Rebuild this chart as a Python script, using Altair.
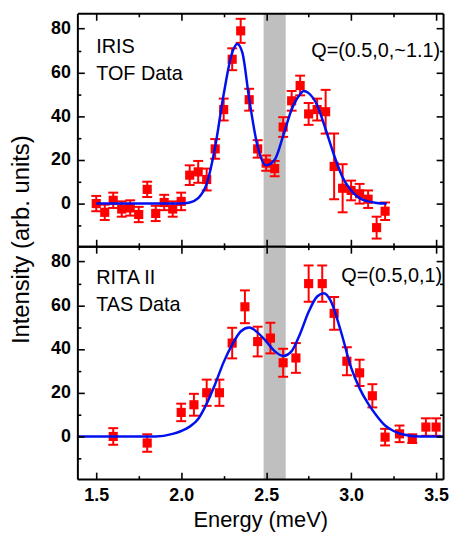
import altair as alt
import pandas as pd

# ---------------- data ----------------
# Top panel: IRIS TOF data
iris_energy = [1.50, 1.55, 1.60, 1.65, 1.70, 1.75, 1.80, 1.85, 1.90, 1.95,
               2.00, 2.05, 2.10, 2.15, 2.20, 2.25, 2.30, 2.35, 2.40, 2.45,
               2.50, 2.55, 2.60, 2.65, 2.70, 2.75, 2.80, 2.85, 2.90, 2.95,
               3.00, 3.05, 3.10, 3.15, 3.20]
iris_intensity = [0, -4, 1.5, -2.5, -2, -5, 6.5, -4.5, 0.5, -2.5,
                  1, 13, 14.5, 11, 25, 43, 66, 79, 47.5, 25,
                  18.5, 16, 35, 47, 54, 41, 43, 42, 17, 7,
                  6, 4.5, 2, -11, -3.5]
iris_error = [3.5, 3.5, 3.5, 3.5, 3.5, 3.5, 3.5, 3.5, 3.5, 3.5,
              4, 4.5, 5, 5, 4.5, 5, 5, 5.5, 5, 4,
              3.5, 3.5, 4.5, 4.5, 4.5, 5, 5, 10, 15, 11,
              4.5, 4.5, 4, 5, 4]
iris_fit_energy = [1.50, 2.00, 2.05, 2.10, 2.15, 2.20, 2.25, 2.30, 2.33, 2.36,
                   2.40, 2.45, 2.50, 2.55, 2.60, 2.65, 2.70, 2.72, 2.75, 2.80,
                   2.85, 2.90, 2.95, 3.00, 3.05, 3.10, 3.15, 3.21]
iris_fit_intensity = [0, 0, 0.5, 2.5, 9, 26, 50, 69, 73, 69,
                      48, 26, 17.5, 20, 31, 43, 50, 51.5, 50.5, 45,
                      34, 22, 12, 6, 2.5, 1, 0.3, 0]

# Bottom panel: RITA II TAS data
rita_energy = [1.60, 1.80, 2.00, 2.075, 2.15, 2.225, 2.30, 2.375, 2.45, 2.525,
               2.60, 2.675, 2.75, 2.83, 2.90, 2.975, 3.05, 3.125, 3.20, 3.285,
               3.36, 3.44, 3.50]
rita_intensity = [0, -3, 11, 14.5, 20, 20, 42.7, 59.3, 43.4, 45,
                  33.7, 35.9, 69.9, 69.9, 56.3, 34.4, 29.1, 18.6, -0.3, 1.2,
                  -1, 4.3, 4.3]
rita_error = [3.8, 4, 4, 5, 6, 6, 7, 7.5, 6.8, 7,
              6.4, 6.8, 8.3, 8.3, 7.5, 6.4, 6, 5.3, 3.8, 3.8,
              2, 4, 4]
rita_fit_energy = [1.389, 1.85, 1.95, 2.00, 2.05, 2.10, 2.15, 2.20, 2.25, 2.30,
                   2.35, 2.40, 2.45, 2.50, 2.55, 2.60, 2.65, 2.70, 2.75, 2.80,
                   2.84, 2.88, 2.94, 3.00, 3.05, 3.10, 3.15, 3.20, 3.25, 3.30,
                   3.40, 3.541]
rita_fit_intensity = [0, 0, 1.2, 2.5, 4.5, 8, 15, 24, 34, 42,
                      48, 49.8, 47.5, 43.5, 39, 36.8, 39, 47, 57, 64,
                      65.5, 62, 48, 31.5, 22, 15, 9.5, 5, 2.5, 1,
                      0, 0]

band_start = [2.485]
band_end = [2.615]

x_label_values = [1.5, 2.0, 2.5, 3.0, 3.5]
x_tick_values = [1.5, 1.75, 2.0, 2.25, 2.5, 2.75, 3.0, 3.25, 3.5]
y_label_values = [0, 20, 40, 60, 80]
y_tick_values = [-10, 0, 10, 20, 30, 40, 50, 60, 70, 80]

iris_text = ["IRIS", "TOF Data"]
iris_q = "Q=(0.5,0,~1.1)"
rita_text = ["RITA II", "TAS Data"]
rita_q = "Q=(0.5,0,1)"

# ---------------- layout / style ----------------
W, H = 369, 235
XDOM = [1.389, 3.541]
YDOM = [-19.5, 87]
FONT = "Liberation Sans"
RED = "#ff0000"
BLUE = "#0010ee"


def xs():
    return alt.Scale(domain=XDOM, nice=False, zero=False)


def ys():
    return alt.Scale(domain=YDOM, nice=False, zero=False)


dash_y = {"condition": {"test": "datum.value % 20 === 0", "value": []}, "value": [3.5, 40]}
dash_x = {"condition": {"test": "abs(datum.value * 2 - round(datum.value * 2)) < 0.001", "value": []},
          "value": [3.5, 40]}


def tick_axis(orient, offset, values, dash):
    return alt.Axis(orient=orient, offset=offset, values=values, labels=False, title=None,
                    ticks=True, tickSize=7, tickWidth=1.6, tickColor="black", tickDash=dash,
                    domain=True, domainColor="black", domainWidth=2, grid=False, zindex=2)


def panel(energy, inten, err, fit_e, fit_i, texts, qtext, bottom):
    df = pd.DataFrame({"E": energy, "I": inten, "err": err})
    df["lo"] = df["I"] - df["err"]
    df["hi"] = df["I"] + df["err"]
    caps = pd.concat([pd.DataFrame({"E": df["E"], "v": df["lo"]}),
                      pd.DataFrame({"E": df["E"], "v": df["hi"]})], ignore_index=True)
    fit = pd.DataFrame({"E": fit_e, "I": fit_i})
    band = pd.DataFrame({"start": band_start, "end": band_end})

    if bottom:
        x_lab_axis = alt.Axis(orient="bottom", values=x_label_values, format=".1f",
                              labelFont=FONT, labelFontSize=18, labelFontWeight="bold",
                              labelColor="black", labelPadding=8, labelOverlap=False,
                              ticks=False, tickSize=0, domain=False, grid=False,
                              title="Energy (meV)", titleFont=FONT, titleFontSize=22,
                              titleFontWeight="normal", titleColor="black", titlePadding=5)
    else:
        x_lab_axis = None

    y_lab_kwargs = dict(orient="left", values=y_label_values, labelFont=FONT, labelFontSize=18,
                        labelFontWeight="bold", labelColor="black", labelPadding=7,
                        ticks=False, tickSize=0, domain=False, grid=False)
    if bottom:
        y_lab_axis = alt.Axis(title=None, **y_lab_kwargs)
    else:
        y_lab_axis = alt.Axis(title="Intensity (arb. units)", titleFont=FONT, titleFontSize=24,
                              titleFontWeight="normal", titleColor="black",
                              titleX=-44, titleY=228, **y_lab_kwargs)

    band_layer = alt.Chart(band).mark_rect(color="#bfbfbf").encode(
        x=alt.X("start:Q", scale=xs(), axis=x_lab_axis),
        x2="end:Q",
    )
    rules = alt.Chart(df).mark_rule(color=RED, strokeWidth=2).encode(
        x=alt.X("E:Q", scale=xs(), axis=tick_axis("bottom", -H, x_tick_values, dash_x)),
        y=alt.Y("lo:Q", scale=ys(), axis=tick_axis("right", -W, y_tick_values, dash_y)),
        y2="hi:Q",
    )
    cap_layer = alt.Chart(caps).mark_tick(color=RED, orient="horizontal", size=10, thickness=2,
                                          opacity=1).encode(
        x=alt.X("E:Q", scale=xs(), axis=tick_axis("top", -H, x_tick_values, dash_x)),
        y=alt.Y("v:Q", scale=ys(), axis=tick_axis("left", -W, y_tick_values, dash_y)),
    )
    squares = alt.Chart(df).mark_square(size=85, color=RED, opacity=1).encode(
        x=alt.X("E:Q", scale=xs(), axis=None),
        y=alt.Y("I:Q", scale=ys(), axis=y_lab_axis),
    )
    curve = alt.Chart(fit).mark_line(color=BLUE, strokeWidth=2.5, interpolate="monotone",
                                     clip=True).encode(
        x=alt.X("E:Q", scale=xs(), axis=None),
        y=alt.Y("I:Q", scale=ys(), axis=None),
    )
    label_y = 40 if not bottom else 38
    label = alt.Chart().mark_text(text=texts, align="left", baseline="alphabetic",
                                  font=FONT, fontSize=20, lineHeight=27, color="black").encode(
        x=alt.value(19), y=alt.value(label_y))
    qlabel = alt.Chart().mark_text(text=qtext, align="right", baseline="alphabetic",
                                   font=FONT, fontSize=20, color="black").encode(
        x=alt.value(366 if not bottom else 368), y=alt.value(44 if not bottom else 36))

    return alt.layer(band_layer, rules, cap_layer, squares, curve, label, qlabel).resolve_axis(
        x="independent", y="independent").properties(width=W, height=H)


top = panel(iris_energy, iris_intensity, iris_error, iris_fit_energy, iris_fit_intensity,
            iris_text, iris_q, bottom=False)
bottom = panel(rita_energy, rita_intensity, rita_error, rita_fit_energy, rita_fit_intensity,
               rita_text, rita_q, bottom=True)

chart = alt.vconcat(top, bottom, spacing=0, bounds="flush").properties(
    padding={"left": 2, "top": 2, "right": 0, "bottom": 0}
).configure_view(stroke=None)

chart.save("out.html", embed_options={"renderer": "svg", "actions": False})
